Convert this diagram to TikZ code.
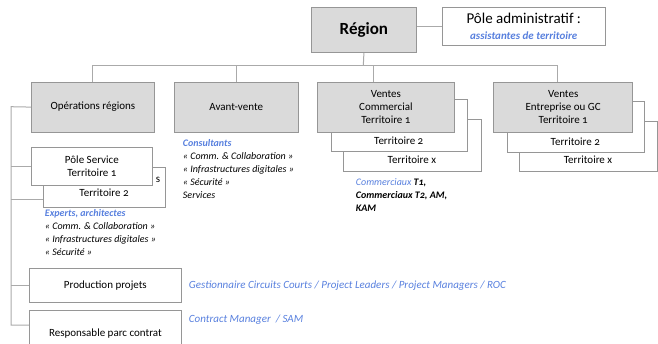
\documentclass[tikz,border=0pt]{standalone}
\usepackage{fontspec}
\setmainfont{Carlito}[Numbers=OldStyle]
\usepackage{tikz}
\usepackage{xcolor}

\definecolor{boxfill}{RGB}{218,218,218}
\definecolor{boxline}{RGB}{150,150,150}
\definecolor{linkgray}{RGB}{170,170,170}
\definecolor{roleblue}{RGB}{88,128,222}

\tikzset{
  gbox/.style={draw=boxline, fill=boxfill, line width=0.8pt, inner sep=0pt, align=center, font=\fontsize{11}{13}\selectfont},
  wbox/.style={gbox, fill=white},
  link/.style={draw=linkgray, line width=1pt},
  roles/.style={inner sep=0.75pt, align=left, font=\fontsize{10}{13}\selectfont\itshape},
  tag/.style={inner sep=0.75pt, font=\fontsize{11}{13}\selectfont},
}

\begin{document}
\begin{tikzpicture}[x=1pt,y=1pt,yscale=-1,xscale=1]
\useasboundingbox (0,0) rectangle (658,343);

% Top level
\draw (311,6.7) node (region) [anchor=north west][gbox][minimum width=105, minimum height=45.6] [font=\fontsize{17}{20}\selectfont\bfseries] {Région};
\draw (441.7,7) node (admin) [anchor=north west][wbox][minimum width=163.3, minimum height=38] [font=\fontsize{15}{16}\selectfont] {Pôle administratif :\\{\fontsize{11}{12}\selectfont\color{roleblue}\bfseries\itshape assistantes de territoire}};

% Second level
\draw (31,81.7) node (ops) [anchor=north west][gbox][minimum width=123, minimum height=50] {Opérations régions};
\draw (174,81.7) node (avant) [anchor=north west][gbox][minimum width=123.7, minimum height=50] {Avant-vente};

% Ventes commercial, stacked
\draw (343,119.3) node (comx) [anchor=north west][wbox][minimum width=137.7, minimum height=51.4] {};
\draw (330.7,99.3) node (com2) [anchor=north west][wbox][minimum width=136, minimum height=51.7] {};
\draw (317,81.7) node (com1) [anchor=north west][gbox][minimum width=137, minimum height=50] {Ventes\\Commercial\\Territoire 1};
\draw (398.7,141) node (com2txt) [tag] {Territoire 2};
\draw (411.9,159.5) node (comxtxt) [tag] {Territoire x};

% Ventes entreprise, stacked
\draw (519.3,120.7) node (entx) [anchor=north west][wbox][minimum width=137.4, minimum height=50.3] {};
\draw (506.7,100.7) node (ent2) [anchor=north west][wbox][minimum width=137.3, minimum height=51] {};
\draw (493.3,81.7) node (ent1) [anchor=north west][gbox][minimum width=139, minimum height=50] {Ventes\\Entreprise ou GC\\Territoire 1};
\draw (575.3,141.5) node (ent2txt) [tag] {Territoire 2};
\draw (588,160) node (entxtxt) [tag] {Territoire x};

% Operations column
\draw (43,167) node (ps2) [anchor=north west][wbox][minimum width=122, minimum height=39.7] {};
\draw (104,193) node (ps2txt) [tag] {Territoire 2};
\draw (158,180) node (ps2tail) [tag] {s};
\draw (31,146.7) node (ps1) [anchor=north west][wbox][minimum width=121, minimum height=38.3] {Pôle Service\\Territoire 1};
\draw (29,268) node (prod) [anchor=north west][wbox][minimum width=152, minimum height=33.7] {Production projets};
\draw (29,310) node (resp) [anchor=north west][wbox][minimum width=152, minimum height=46] {Responsable parc contrat};

% Connectors
\coordinate (bus) at (363.3,65.7);
\coordinate (comdrop) at (373.3,65.7);
\coordinate (entdrop) at (557.7,65.7);
\coordinate (trunk) at (11,106.7);
\coordinate (respin) at (29,325);
\draw [link] (admin.west) -- (region.east |- admin.west);
\draw [link] (region.south) -- (bus);
\draw [link] (ops.north) |- (entdrop) -- (entdrop |- ent1.north);
\draw [link] (avant.north) -- (avant.north |- bus);
\draw [link] (comdrop) -- (comdrop |- com1.north);
\draw [link] (ops.west) -- (trunk) |- (respin);
\draw [link] (ps1.west) -- (ps1.west -| trunk);
\draw [link] (ps2.west |- 0,199) -- (trunk |- 0,199);
\draw [link] (prod.west) -- (prod.west -| trunk);

% Text Node
\draw (182,139) node (consult) [anchor=north west][roles] {{\color{roleblue}\bfseries Consultants}\\« Comm. \& Collaboration »\\« Infrastructures digitales »\\« Sécurité  »\\Services};
% Text Node
\draw (44,208.5) node (experts) [anchor=north west][roles] {{\color{roleblue}\bfseries Experts, architectes}\\« Comm. \& Collaboration »\\« Infrastructures digitales »\\« Sécurité  »};
% Text Node
\draw (355,177.5) node (sales) [anchor=north west][roles] {{\color{roleblue}Commerciaux} \textbf{T1,}\\\textbf{Commerciaux T2, AM,}\\\textbf{KAM}};
% Text Node
\draw (188,286) node (prodroles) [anchor=west][roles] [font=\fontsize{11}{13}\selectfont\itshape\color{roleblue}] {Gestionnaire Circuits Courts / Project Leaders / Project Managers / ROC};
% Text Node
\draw (188,320) node (resproles) [anchor=west][roles] [font=\fontsize{11}{13}\selectfont\itshape\color{roleblue}] {Contract Manager~~/ SAM};

\end{tikzpicture}
\end{document}
